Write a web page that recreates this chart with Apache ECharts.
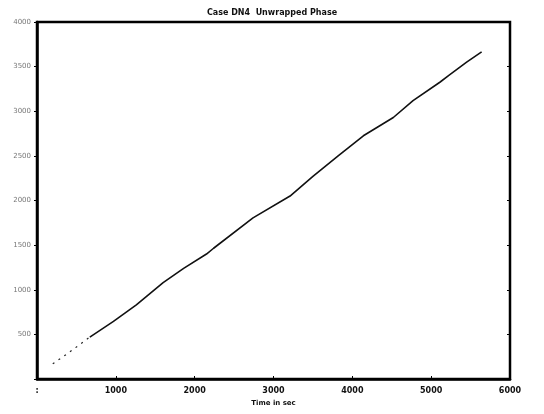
<!DOCTYPE html>
<html>
<head>
<meta charset="utf-8">
<script src="https://cdn.jsdelivr.net/npm/echarts@6/dist/echarts.min.js"></script>
<style>
  html, body { margin: 0; padding: 0; background: #fff; }
  #chart { width: 544px; height: 414px; }
</style>
</head>
<body>
<div id="chart"></div>
<script>
// Unwrapped phase vs. time for case DN4
const timeSec = [200, 380, 670, 970, 1260, 1600, 1860, 2150, 2240, 2740, 3210, 3500, 3820, 4140, 4520, 4770, 5110, 5220, 5450, 5640];
const phase   = [170, 280, 470, 645, 830, 1080, 1240, 1400, 1465, 1805, 2050, 2270, 2500, 2725, 2930, 3120, 3325, 3400, 3550, 3665];
// the first few samples are drawn as a sparse dotted trace
const dottedCount = 3;

const xTicks = [0, 1000, 2000, 3000, 4000, 5000, 6000];
const yTicks = [0, 500, 1000, 1500, 2000, 2500, 3000, 3500, 4000];

const pairs = timeSec.map((t, i) => [t, phase[i]]);
const head = pairs.slice(0, dottedCount);
const tail = pairs.slice(dottedCount - 1);

const font = 'DejaVu Sans';
const chart = echarts.init(document.getElementById('chart'), null, { renderer: 'canvas' });
chart.setOption({
  animation: false,
  backgroundColor: '#ffffff',
  title: {
    text: 'Case DN4  Unwrapped Phase',
    left: 'center',
    top: 4,
    textStyle: { fontFamily: font, fontSize: 8, fontWeight: 'bold', color: '#111' }
  },
  grid: {
    left: 37, right: 34, top: 22, bottom: 35,
    show: true, borderColor: '#000', borderWidth: 2.5, backgroundColor: 'transparent'
  },
  xAxis: {
    type: 'value',
    min: xTicks[0], max: xTicks[xTicks.length - 1], interval: 1000,
    name: 'Time in sec', nameLocation: 'middle', nameGap: 21,
    nameTextStyle: { fontFamily: font, fontSize: 7, fontWeight: 'bold', color: '#111' },
    axisLine: { show: true, lineStyle: { color: '#000', width: 2.5 } },
    axisTick: { show: true, inside: true, length: 3, lineStyle: { color: '#000', width: 1 } },
    splitLine: { show: false },
    axisLabel: {
      fontFamily: font, fontSize: 8, fontWeight: 'bold', color: '#111', margin: 8,
      formatter: v => (v === 0 ? ':' : String(v))
    }
  },
  yAxis: [{
    type: 'value',
    min: yTicks[0], max: yTicks[yTicks.length - 1], interval: 500,
    axisLine: { show: true, lineStyle: { color: '#000', width: 2.5 } },
    axisTick: { show: true, inside: false, length: 3, lineStyle: { color: '#000', width: 1 } },
    splitLine: { show: false },
    axisLabel: {
      fontFamily: font, fontSize: 7, color: '#777', margin: 6,
      formatter: v => (v === 0 ? '' : String(v))
    }
  }, {
    type: 'value', position: 'right',
    min: yTicks[0], max: yTicks[yTicks.length - 1], interval: 500,
    axisLine: { show: false },
    axisTick: { show: true, inside: true, length: 3, lineStyle: { color: '#000', width: 1 } },
    axisLabel: { show: false },
    splitLine: { show: false }
  }],
  series: [{
    type: 'line', data: head, showSymbol: false, yAxisIndex: 0,
    lineStyle: { color: '#222', width: 1.2, type: [2, 5] }
  }, {
    type: 'line', data: tail, showSymbol: false, yAxisIndex: 0,
    lineStyle: { color: '#111', width: 1.6 }
  }]
});
</script>
</body>
</html>
